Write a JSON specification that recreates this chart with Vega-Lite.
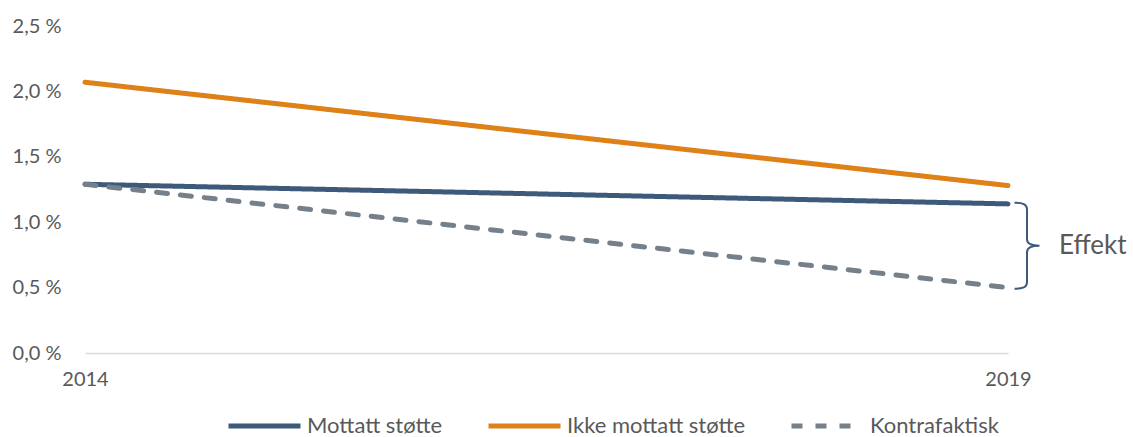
{
  "$schema": "https://vega.github.io/schema/vega-lite/v6.json",
  "width": 923,
  "height": 327,
  "autosize": {"type": "none"},
  "padding": {"left": 85, "top": 26, "right": 125, "bottom": 84},
  "config": {
    "view": {"stroke": null},
    "font": "Lato",
    "text": {"font": "Lato"}
  },
  "data": {
    "values": [
      {"year": 2014, "serie": "Mottatt støtte", "andel": 1.29},
      {"year": 2019, "serie": "Mottatt støtte", "andel": 1.14},
      {"year": 2014, "serie": "Ikke mottatt støtte", "andel": 2.07},
      {"year": 2019, "serie": "Ikke mottatt støtte", "andel": 1.28},
      {"year": 2014, "serie": "Kontrafaktisk", "andel": 1.29},
      {"year": 2019, "serie": "Kontrafaktisk", "andel": 0.5}
    ]
  },
  "layer": [
    {
      "mark": {"type": "line", "strokeWidth": 5, "strokeCap": "round"},
      "encoding": {
        "x": {
          "field": "year",
          "type": "quantitative",
          "scale": {"domain": [2014, 2019], "nice": false, "zero": false},
          "axis": {
            "values": [2014, 2019],
            "format": "d",
            "title": null,
            "grid": false,
            "ticks": false,
            "domainColor": "#D9D9D9",
            "domainWidth": 1.5,
            "labelFontSize": 20,
            "labelColor": "#595959",
            "labelPadding": 16,
            "labelFlush": false
          }
        },
        "y": {
          "field": "andel",
          "type": "quantitative",
          "scale": {"domain": [0, 2.5], "nice": false},
          "axis": {
            "values": [0, 0.5, 1, 1.5, 2, 2.5],
            "labelExpr": "replace(format(datum.value, '.1f'), '.', ',') + ' %'",
            "title": null,
            "grid": false,
            "ticks": false,
            "domain": false,
            "labelFontSize": 20,
            "labelColor": "#595959",
            "labelPadding": 24
          }
        },
        "color": {
          "field": "serie",
          "type": "nominal",
          "scale": {
            "domain": ["Mottatt støtte", "Ikke mottatt støtte", "Kontrafaktisk"],
            "range": ["#3D5A7B", "#DD8118", "#76808A"]
          },
          "legend": {
            "title": null,
            "orient": "none",
            "legendX": 141,
            "legendY": 384,
            "direction": "horizontal",
            "symbolType": "stroke",
            "symbolSize": 5184,
            "symbolStrokeWidth": 5,
            "clipHeight": 32,
            "labelFontSize": 22,
            "labelColor": "#595959",
            "labelOffset": 4,
            "labelLimit": 300,
            "columnPadding": 43
          }
        },
        "strokeDash": {
          "field": "serie",
          "type": "nominal",
          "scale": {
            "domain": ["Mottatt støtte", "Ikke mottatt støtte", "Kontrafaktisk"],
            "range": [[1, 0], [1, 0], [11, 13]]
          },
          "legend": {
            "title": null,
            "orient": "none",
            "legendX": 141,
            "legendY": 384,
            "direction": "horizontal",
            "symbolType": "stroke",
            "symbolSize": 5184,
            "symbolStrokeWidth": 5,
            "clipHeight": 32,
            "labelFontSize": 22,
            "labelColor": "#595959",
            "labelOffset": 4,
            "labelLimit": 300,
            "columnPadding": 43
          }
        }
      }
    },
    {
      "transform": [
        {"filter": "datum.year == 2019 && datum.serie != 'Ikke mottatt støtte'"},
        {"aggregate": [{"op": "mean", "field": "andel", "as": "midt"}], "groupby": ["year"]}
      ],
      "mark": {
        "type": "point",
        "shape": "M-0.29,-1 C-0.1,-1 0,-0.97 0,-0.85 L0,-0.15 C0,-0.05 0.12,0 0.29,0 C0.12,0 0,0.05 0,0.15 L0,0.85 C0,0.97 -0.1,1 -0.29,1",
        "size": 7396,
        "filled": false,
        "strokeWidth": 2,
        "color": "#3D5A7B",
        "opacity": 1,
        "xOffset": 19
      },
      "encoding": {
        "x": {"field": "year", "type": "quantitative"},
        "y": {"field": "midt", "type": "quantitative"}
      }
    },
    {
      "transform": [
        {"filter": "datum.year == 2019 && datum.serie != 'Ikke mottatt støtte'"},
        {"aggregate": [{"op": "mean", "field": "andel", "as": "midt"}], "groupby": ["year"]}
      ],
      "mark": {
        "type": "text",
        "text": "Effekt",
        "align": "left",
        "baseline": "middle",
        "dx": 51,
        "fontSize": 26,
        "color": "#595959"
      },
      "encoding": {
        "x": {"field": "year", "type": "quantitative"},
        "y": {"field": "midt", "type": "quantitative"}
      }
    }
  ]
}
